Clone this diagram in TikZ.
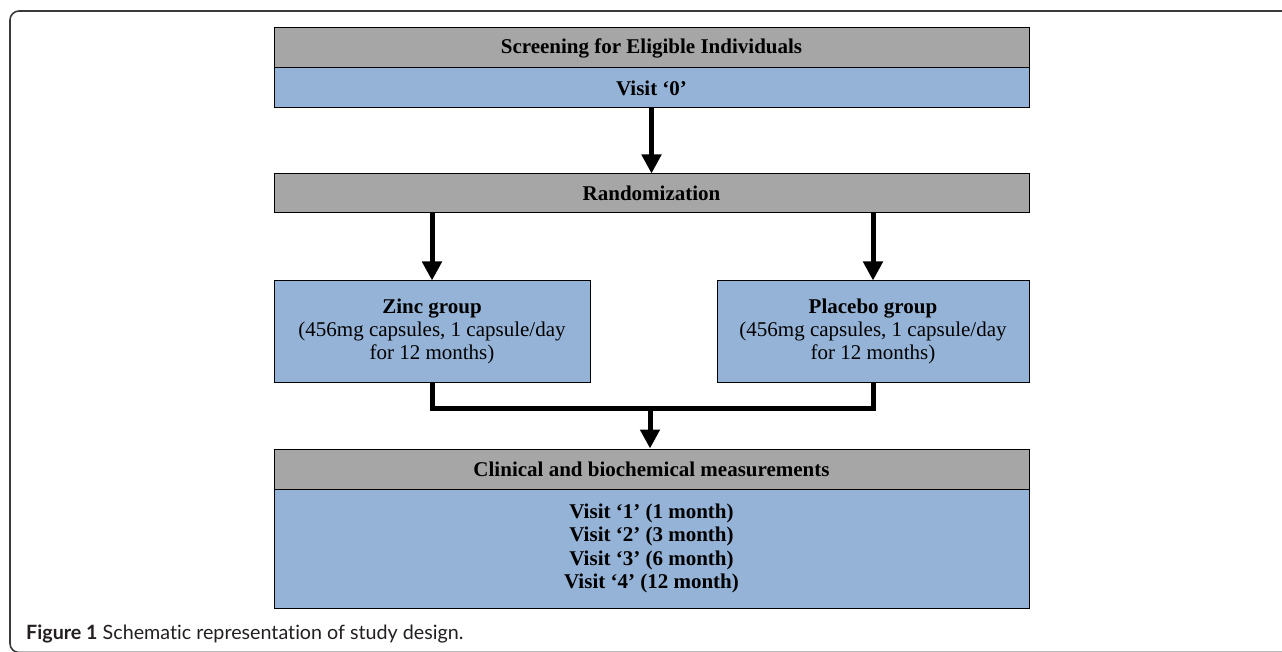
\documentclass[tikz,border=0pt]{standalone}
\usepackage{fontspec}
\setmainfont{Liberation Serif}
\newfontfamily\capfont[Ligatures=NoCommon]{Lato}
\usetikzlibrary{arrows.meta}
\definecolor{boxgray}{HTML}{A6A6A6}
\definecolor{boxblue}{HTML}{95B3D7}
\definecolor{framegray}{HTML}{3A3A3A}
\definecolor{captext}{HTML}{231F20}
\begin{document}
\begin{tikzpicture}[x=1pt,y=-1pt,
  box/.style={draw=black, line width=1pt, inner sep=0pt, align=center,
    font=\fontsize{21}{23.3}\selectfont},
  graybox/.style={box, fill=boxgray, font=\fontsize{21}{23.3}\selectfont\bfseries},
  bluebox/.style={box, fill=boxblue},
  link/.style={line width=5pt, black},
  arr/.style={link, -{Triangle[length=19pt,width=19pt]}}
]
\useasboundingbox (0,0) rectangle (1282,652);
\fill[white] (0,0) rectangle (1282,652);
% frame
\draw[framegray, line width=1.6pt, rounded corners=9pt] (1290,652.5) -- (10,652.5) -- (10,11) -- (1290,11);
% nodes
\node[graybox, minimum width=755pt, minimum height=40pt] (screen) at (651.5,48) {Screening for Eligible Individuals};
\node[bluebox, minimum width=755pt, minimum height=40pt, font=\fontsize{21}{23.3}\selectfont\bfseries] (visit0) at (651.5,88) {Visit ‘0’};
\node[graybox, minimum width=755pt, minimum height=39pt] (rand) at (651.5,193.5) {Randomization};
\node[bluebox, minimum width=316pt, minimum height=101pt] (zinc) at (432,331.5) {\textbf{Zinc group}\\(456mg capsules, 1 capsule/day\\for 12 months)};
\node[bluebox, minimum width=312pt, minimum height=101pt] (placebo) at (873,331.5) {\textbf{Placebo group}\\(456mg capsules, 1 capsule/day\\for 12 months)};
\node[graybox, minimum width=755pt, minimum height=40pt] (clin) at (651.5,469) {Clinical and biochemical measurements};
\node[bluebox, minimum width=755pt, minimum height=119pt, font=\fontsize{21}{23.3}\selectfont\bfseries] (visits) at (651.5,548.5) {Visit ‘1’ (1 month)\\Visit ‘2’ (3 month)\\Visit ‘3’ (6 month)\\Visit ‘4’ (12 month)};
% connectors
\draw[arr] (visit0.south) -- (rand.north);
\draw[arr] (rand.south -| zinc.north) -- (zinc.north);
\draw[arr] (rand.south -| placebo.north) -- (placebo.north);
\coordinate (m) at (650,408);
\draw[link] (zinc.south) -- (zinc.south |- m) -- (placebo.south |- m) -- (placebo.south);
\draw[arr] (m) -- (m |- clin.north);
% caption
\node[anchor=base west, inner sep=0pt, text=captext, font=\capfont\fontsize{19.7}{23}\selectfont] (cap) at (26,639) {\textbf{Figure 1} Schematic representation of study design.};
\end{tikzpicture}
\end{document}
